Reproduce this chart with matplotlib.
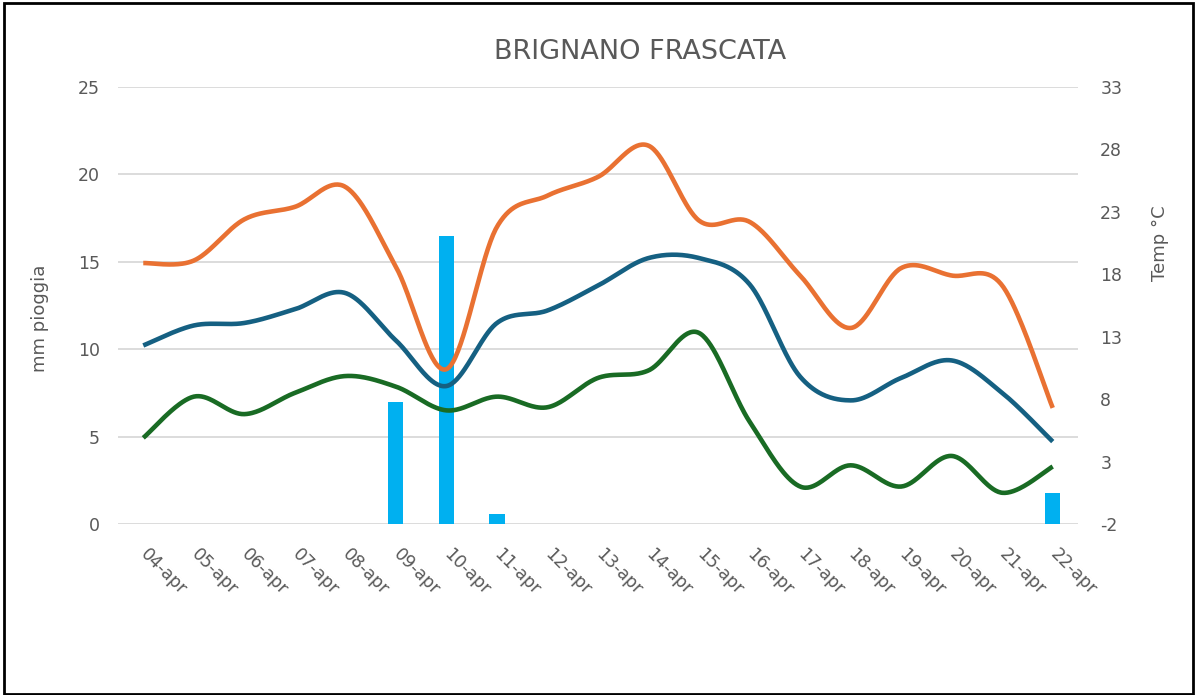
import numpy as np
import matplotlib
matplotlib.use('Agg')
import matplotlib.pyplot as plt
from matplotlib.patches import Rectangle

plt.rcParams['font.family'] = ['DejaVu Sans']
plt.rcParams['axes.unicode_minus'] = False

dates = ['04-apr', '05-apr', '06-apr', '07-apr', '08-apr', '09-apr', '10-apr',
         '11-apr', '12-apr', '13-apr', '14-apr', '15-apr', '16-apr', '17-apr',
         '18-apr', '19-apr', '20-apr', '21-apr', '22-apr']
rain = [0, 0, 0, 0, 0, 7.0, 16.5, 0.57, 0, 0, 0, 0, 0, 0, 0, 0, 0, 0, 1.77]
t_max = [18.9, 19.1, 22.4, 23.4, 25.0, 18.6, 10.4, 21.8, 24.3, 25.8, 28.3,
         22.3, 22.2, 17.9, 13.7, 18.5, 17.9, 17.1, 7.3]
t_mean = [12.3, 13.9, 14.1, 15.2, 16.5, 12.7, 9.05, 14.1, 15.1, 17.1, 19.3,
          19.3, 17.2, 9.8, 7.9, 9.7, 11.1, 8.5, 4.6]
t_min = [4.9, 8.2, 6.8, 8.5, 9.85, 9.0, 7.1, 8.2, 7.35, 9.7, 10.3, 13.3,
         6.2, 1.0, 2.7, 1.0, 3.45, 0.5, 2.6]

left_ticks = [0, 5, 10, 15, 20, 25]
right_ticks = [-2, 3, 8, 13, 18, 23, 28, 33]

TXT = '#595959'
C_MAX = '#E97132'
C_MEAN = '#156082'
C_MIN = '#196B24'
C_BAR = '#00B0F0'


def smooth(xs, ys, n=40):
    xs = np.asarray(xs, float)
    ys = np.asarray(ys, float)
    px = np.concatenate([[xs[0]], xs, [xs[-1]]])
    py = np.concatenate([[ys[0]], ys, [ys[-1]]])
    outx, outy = [], []
    t = np.linspace(0, 1, n)
    for i in range(1, len(px) - 2):
        p0 = np.array([px[i], py[i]])
        p3 = np.array([px[i + 1], py[i + 1]])
        c1 = p0 + (np.array([px[i + 1], py[i + 1]]) - np.array([px[i - 1], py[i - 1]])) / 6
        c2 = p3 - (np.array([px[i + 2], py[i + 2]]) - np.array([px[i], py[i]])) / 6
        b = ((1 - t) ** 3)[:, None] * p0 + (3 * (1 - t) ** 2 * t)[:, None] * c1 \
            + (3 * (1 - t) * t ** 2)[:, None] * c2 + (t ** 3)[:, None] * p3
        outx.extend(b[:, 0])
        outy.extend(b[:, 1])
    return np.array(outx), np.array(outy)


fig = plt.figure(figsize=(11.96, 6.95), dpi=100)
ax = fig.add_axes([118 / 1196, 1 - 524 / 695, 960 / 1196, 437 / 695])
x = np.arange(len(dates))
ax.bar(x, rain, width=0.3, color=C_BAR, zorder=2)
ax.set_xlim(-0.5, len(dates) - 0.5)
ax.set_ylim(0, 25)
ax.set_yticks(left_ticks)
ax.grid(axis='y', color='#D9D9D9', lw=1.3, zorder=0)
ax.set_axisbelow(True)
for s in ax.spines.values():
    s.set_visible(False)
ax.tick_params(axis='both', length=0, labelsize=12.5, labelcolor=TXT)
ax.tick_params(axis='y', pad=13)
ax.set_xticks(x)
ax.set_xticklabels(dates, rotation=-45, ha='left', va='center',
                   rotation_mode='anchor')
ax.tick_params(axis='x', pad=20)
ax.set_ylabel('mm pioggia', fontsize=13, color=TXT, va='center')
ax.yaxis.set_label_coords(-0.081, 0.471)

ax2 = ax.twinx()
ax2.set_ylim(-2, 33)
ax2.set_yticks(right_ticks)
for s in ax2.spines.values():
    s.set_visible(False)
ax2.tick_params(axis='y', length=0, labelsize=12.5, labelcolor=TXT, pad=16)
ax2.set_ylabel('Temp °C', fontsize=13, color=TXT, va='center')
ax2.yaxis.set_label_coords(1.085, 0.643)

for ys, c in [(t_max, C_MAX), (t_mean, C_MEAN), (t_min, C_MIN)]:
    sx, sy = smooth(x, ys)
    ax2.plot(sx, sy, color=c, lw=3.3, solid_capstyle='butt', zorder=3)

fig.text(640 / 1196, 1 - 52 / 695, 'BRIGNANO FRASCATA', ha='center', va='center',
         fontsize=19.5, color=TXT)

fig.patches.append(Rectangle((4 / 1196, 1 - 694 / 695), 1189 / 1196, 691 / 695,
                             transform=fig.transFigure, fill=False,
                             edgecolor='black', lw=2))

fig.savefig('out.png', dpi=100, facecolor='white')
